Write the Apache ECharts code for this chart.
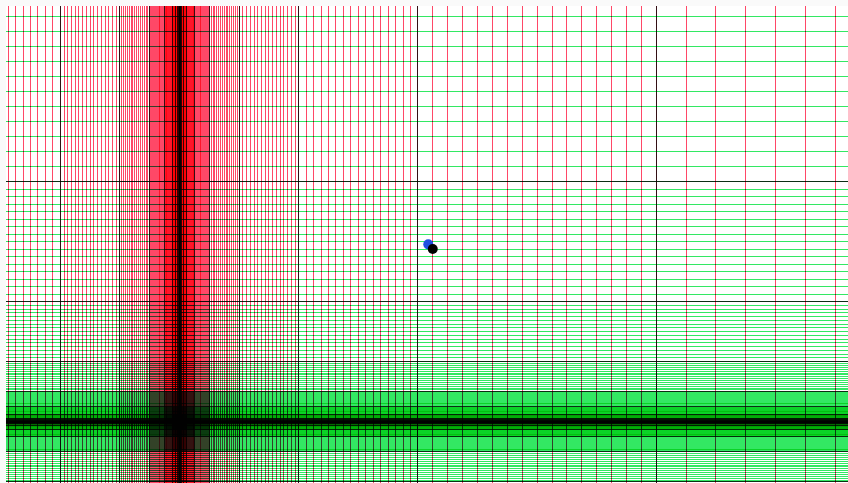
<!DOCTYPE html>
<html><head><meta charset="utf-8">
<script src="https://cdn.jsdelivr.net/npm/echarts@6/dist/echarts.min.js"></script>
<style>html,body{margin:0;padding:0;background:#fafafa}#c{width:848px;height:483px}</style>
</head><body><div id="c"></div>
<script>
// visible axis ranges (data units, centre of the grid = 0)
const xRange = [-11.63, 44.88];
const yRange = [-4.09, 27.67];
// octave boundaries of the self-similar grid (major, black lines)
const octaves = [1/256, 1/128, 1/64, 1/32, 1/16, 1/8, 1/4, 1/2, 1, 2, 4, 8, 16, 32];
// subdivision steps inside each octave (minor red / green lines)
const steps = [0, 1, 2, 3, 4, 5, 6, 7, 8, 9, 10, 11, 12, 13, 14, 15];
const stepCount = 16;
// the two plotted points
const bluePoints = [[16.71, 11.80]];
const blackPoints = [[17.01, 11.49]];

function inRange(v, r) { return v >= r[0] && v <= r[1]; }
function minorValues(r) {
  const out = [0];
  octaves.forEach(b => steps.forEach(j => {
    const o = b * (1 + j / stepCount);
    [o, -o].forEach(v => { if (inRange(v, r)) out.push(v); });
  }));
  return out;
}
function majorValues(r) {
  const out = [0];
  octaves.forEach(b => [b, -b].forEach(v => { if (inRange(v, r)) out.push(v); }));
  return out;
}
const vLines = vals => vals.map(v => ({ coords: [[v, yRange[0]], [v, yRange[1]]] }));
const hLines = vals => vals.map(v => ({ coords: [[xRange[0], v], [xRange[1], v]] }));
function linesSeries(data, color, opacity, width, z) {
  return {
    type: 'lines', coordinateSystem: 'cartesian2d', polyline: false, silent: true,
    blendMode: 'multiply', z: z, animation: false, large: false,
    lineStyle: { color: color, width: width, opacity: opacity, type: 'solid' },
    effect: { show: false }, data: data
  };
}
const chart = echarts.init(document.getElementById('c'), null, { renderer: 'canvas' });
chart.setOption({
  backgroundColor: '#fafafa',
  animation: false,
  grid: { left: 6, top: 6, right: 0, bottom: 0, show: true, backgroundColor: '#ffffff', borderWidth: 0 },
  xAxis: { type: 'value', min: xRange[0], max: xRange[1], show: false, splitLine: { show: false } },
  yAxis: { type: 'value', min: yRange[0], max: yRange[1], show: false, splitLine: { show: false } },
  series: [
    linesSeries(hLines(minorValues(yRange)), 'rgb(0,226,60)', 0.8, 1, 3),
    linesSeries(vLines(minorValues(xRange)), 'rgb(255,20,60)', 0.78, 1, 4),
    linesSeries(vLines(majorValues(xRange)).concat(hLines(majorValues(yRange))), 'rgb(0,0,0)', 0.8, 1, 5),
    { type: 'scatter', z: 10, data: bluePoints, symbolSize: 10, itemStyle: { color: '#1f4fe0', opacity: 1 } },
    { type: 'scatter', z: 11, data: blackPoints, symbolSize: 10, itemStyle: { color: '#000000', opacity: 1 } }
  ]
});
</script></body></html>
